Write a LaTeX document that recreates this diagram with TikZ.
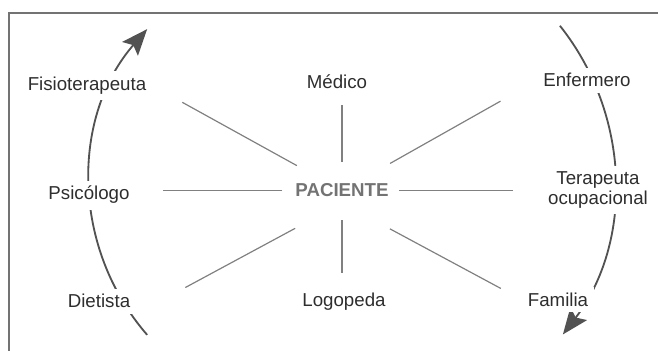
\documentclass[tikz,border=0pt]{standalone}
\usepackage{fontspec}
\setmainfont{Liberation Sans}
\usepackage{tikz}
\usetikzlibrary{arrows.meta}

\begin{document}
\begin{tikzpicture}[>={Stealth[length=6.5mm,width=5.2mm,inset=1.2mm]},
    role/.style={fill=white,inner sep=4pt,anchor=base,text=black!82,
                 font=\fontsize{13.3pt}{14.2pt}\selectfont},
    spoke/.style={black!50,line width=0.85pt},
    roundarrow/.style={->,black!68,line width=1.3pt}]
  \useasboundingbox (0,0) rectangle (16.45,8.775);
  % frame
  \draw[black!55,line width=1pt] (16.45,8.45) -- (0.225,8.45) -- (0.225,0);
  % the two turning arrows
  \coordinate (lefthub)  at (8.075,4.225);
  \coordinate (righthub) at (9.0875,4.225);
  \draw[roundarrow] ([shift={(221:5.825)}]lefthub) arc[start angle=221,end angle=139,radius=5.825];
  \draw[roundarrow] ([shift={(38.5:6.275)}]righthub) arc[start angle=38.5,end angle=-37.4,radius=6.275];

  \node[role,fill=none,text=black!55,font=\bfseries\fontsize{13.3pt}{14.2pt}\selectfont] (pac) at (8.55,3.85) {PACIENTE};
  \node[role] (fisio)  at (2.175,6.5125) {Fisioterapeuta};
  \node[role] (medico) at (8.425,6.55)   {Médico};
  \node[role] (enf)    at (14.675,6.6)   {Enfermero};
  \node[role] (psico)  at (2.225,3.775)  {Psicólogo};
  \node[role,anchor=center,align=center] (tera) at (14.95,4.02) {Terapeuta\\ocupacional};
  \node[role] (diet)   at (2.475,1.075)  {Dietista};
  \node[role] (logo)   at (8.6,1.1)      {Logopeda};
  \node[role] (fam)    at (13.95,1.1125) {Familia};

  \path[spoke]
    (pac.center) edge[shorten <=1.29cm,shorten >=0.86cm] (fisio.east)
    (pac.north)  edge[shorten <=0.4cm,shorten >=0.26cm]  (pac.north |- medico.south)
    (pac.center) edge[shorten <=1.38cm,shorten >=1.06cm] (enf.west)
    (pac.west)   edge[shorten <=0.18cm,shorten >=0.7cm]  (pac.west -| psico.east)
    (pac.east)   edge[shorten <=0.12cm,shorten >=0.74cm] (pac.east -| tera.west)
    (pac.south)  edge[shorten <=1.33cm,shorten >=1.4cm]  (diet.south east)
    (pac.south)  edge[shorten <=0.42cm,shorten >=0.36cm] (pac.south |- logo.north)
    (pac.south)  edge[shorten <=1.36cm,shorten >=0.6cm]  (fam.west);
\end{tikzpicture}
\end{document}
